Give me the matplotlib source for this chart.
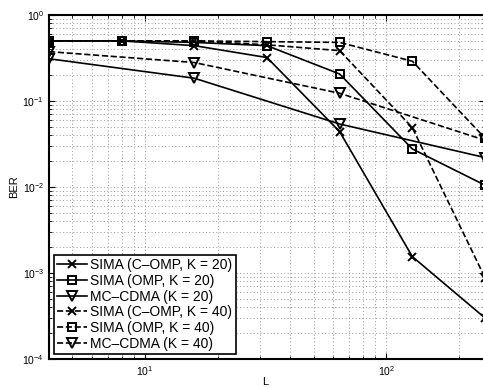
import numpy as np
import matplotlib
matplotlib.use("Agg")
import matplotlib.pyplot as plt

plt.rcParams['font.family'] = ['Liberation Sans', 'DejaVu Sans']
plt.rcParams['mathtext.default'] = 'regular'

# data
L = [4, 8, 16, 32, 64, 128, 256]
L_mc = [4, 16, 64, 256]
comp_k20 = [0.5, 0.5, 0.44, 0.32, 0.044, 0.00155, 0.0003]
omp_k20 = [0.5, 0.5, 0.48, 0.44, 0.206, 0.0277, 0.0105]
mc_k20 = [0.31, 0.184, 0.054, 0.022]
comp_k40 = [0.5, 0.5, 0.5, 0.45, 0.385, 0.049, 0.00088]
omp_k40 = [0.5, 0.5, 0.5, 0.49, 0.48, 0.29, 0.037]
mc_k40 = [0.375, 0.28, 0.123, 0.035]

labels = ['SIMA (C\u2013OMP, K = 20)', 'SIMA (OMP, K = 20)', 'MC\u2013CDMA (K = 20)',
          'SIMA (C\u2013OMP, K = 40)', 'SIMA (OMP, K = 40)', 'MC\u2013CDMA (K = 40)']

fig = plt.figure(figsize=(4.83, 3.88), dpi=100)
ax = fig.add_axes([49 / 483, 29 / 388, 436 / 483, 344 / 388])

lw = 1.2
kw = dict(color='black', lw=lw, mfc='none', mec='black', mew=1.4)
ax.plot(L, comp_k20, '-', marker='x', ms=5.5, label=labels[0], **kw)
ax.plot(L, omp_k20, '-', marker='s', ms=5.5, label=labels[1], **kw)
ax.plot(L_mc, mc_k20, '-', marker='v', ms=7.5, label=labels[2], **kw)
ax.plot(L, comp_k40, '--', marker='x', ms=5.5, label=labels[3], **kw)
ax.plot(L, omp_k40, '--', marker='s', ms=5.5, label=labels[4], **kw)
ax.plot(L_mc, mc_k40, '--', marker='v', ms=7.5, label=labels[5], **kw)

ax.set_xscale('log')
ax.set_yscale('log')
ax.set_xlim(4, 256)
ax.set_ylim(1e-4, 1)
ax.set_yticks([1e-4, 1e-3, 1e-2, 1e-1, 1])
ax.set_xticks([10, 100])

ax.grid(True, which='both', linestyle=(0, (1, 2.5)), color='0.6', lw=0.7)
ax.tick_params(which='both', direction='in', top=True, right=True, labelsize=7.5)
ax.tick_params(which='major', length=4)
ax.tick_params(which='minor', length=2)
for s in ax.spines.values():
    s.set_linewidth(1.5)

ax.set_xlabel('L', fontsize=8, va='top')
ax.xaxis.set_label_coords(0.495, -0.053)
ax.set_ylabel('BER', fontsize=8, labelpad=2)

leg = ax.legend(loc='lower left', fontsize=10, handlelength=2.1, handletextpad=0.25,
                borderaxespad=0.35, borderpad=0.25, labelspacing=0.12,
                fancybox=False, framealpha=1)
leg.get_frame().set_edgecolor('black')
leg.get_frame().set_linewidth(1.2)

fig.savefig('out.png', dpi=100)
